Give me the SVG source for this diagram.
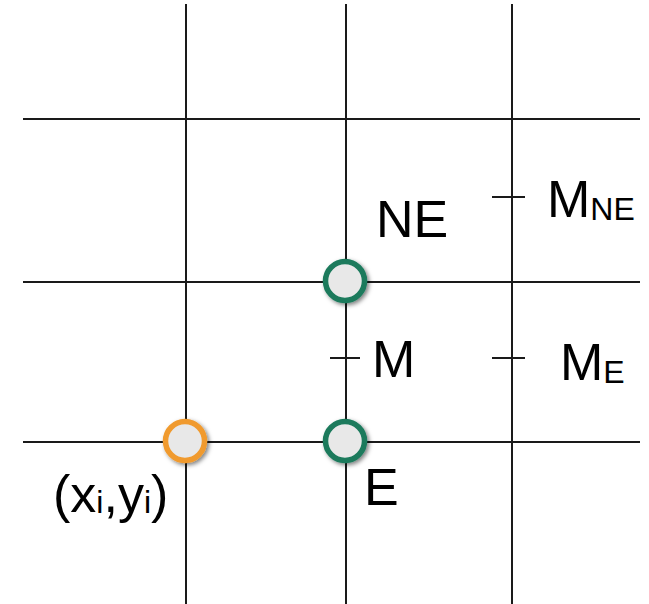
<svg xmlns="http://www.w3.org/2000/svg" width="649" height="604" viewBox="0 0 649 604">
  <style>
    .grid { stroke: #1a1a1a; stroke-width: 2; fill: none; }
    .tick { stroke: #1a1a1a; stroke-width: 2; }
    .lbl { font-family: "Liberation Sans", Arial, Helvetica, sans-serif; font-size: 52px; fill: #000; }
    .sub { font-size: 32px; }
    .pt { fill: #e8e8e8; stroke-width: 5.5; filter: url(#shadow); }
    .green { stroke: #1b7a5c; }
    .orange { stroke: #f09a2e; }
  </style>
  <defs>
    <filter id="shadow" x="-50%" y="-50%" width="200%" height="200%">
      <feDropShadow dx="2" dy="2" stdDeviation="2" flood-color="#000" flood-opacity="0.5"/>
    </filter>
  </defs>
  <rect width="649" height="604" fill="#fff"/>
  <g id="connectors">
    <line class="grid" x1="186" y1="4" x2="186" y2="604"/>
    <line class="grid" x1="346" y1="4" x2="346" y2="604"/>
    <line class="grid" x1="512" y1="4" x2="512" y2="604"/>
    <line class="grid" x1="23" y1="119" x2="640" y2="119"/>
    <line class="grid" x1="23" y1="282" x2="640" y2="282"/>
    <line class="grid" x1="23" y1="442" x2="640" y2="442"/>
  </g>
  <g id="tick-M">
    <line class="tick" x1="330" y1="358" x2="360" y2="358"/>
    <text class="lbl" x="372" y="377">M</text>
  </g>
  <g id="tick-MNE">
    <line class="tick" x1="492" y1="197" x2="525" y2="197"/>
    <text class="lbl" x="547" y="217">M<tspan class="sub" dy="3">NE</tspan></text>
  </g>
  <g id="tick-ME">
    <line class="tick" x1="492" y1="358" x2="525" y2="358"/>
    <text class="lbl" x="560" y="380">M<tspan class="sub" dy="3">E</tspan></text>
  </g>
  <g id="node-NE">
    <circle class="pt green" cx="345" cy="281" r="19.5"/>
    <text class="lbl" x="376" y="237">NE</text>
  </g>
  <g id="node-E">
    <circle class="pt green" cx="345" cy="441" r="19.5"/>
    <text class="lbl" x="364" y="505">E</text>
  </g>
  <g id="node-xy">
    <circle class="pt orange" cx="185" cy="441" r="19.5"/>
    <text class="lbl" x="53" y="512">(x<tspan class="sub" dy="1">i</tspan><tspan dy="-1">,y</tspan><tspan class="sub" dy="1">i</tspan><tspan dy="-1">)</tspan></text>
  </g>
</svg>
